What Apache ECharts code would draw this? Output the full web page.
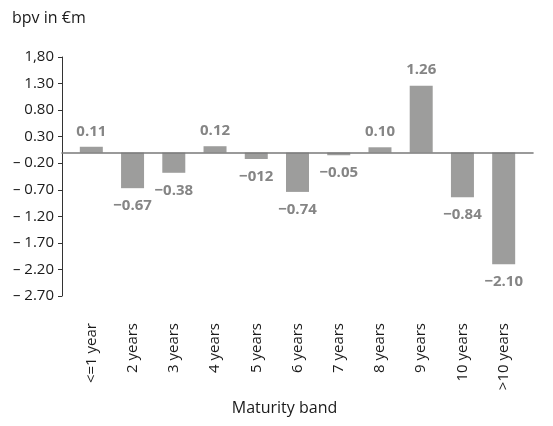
<!DOCTYPE html>
<html>
<head>
<meta charset="utf-8">
<script src="https://cdn.jsdelivr.net/npm/echarts@6/dist/echarts.min.js"></script>
<style>
html,body{margin:0;padding:0;background:#fff;}
#chart{width:553px;height:426px;}
</style>
</head>
<body>
<div id="chart"></div>
<script>
var categories = ["<=1 year","2 years","3 years","4 years","5 years","6 years","7 years","8 years","9 years","10 years",">10 years"];
var values = [0.11,-0.67,-0.38,0.12,-0.12,-0.74,-0.05,0.10,1.26,-0.84,-2.10];
var valueLabels = ["0.11","\u22120.67","\u22120.38","0.12","\u2212012","\u22120.74","\u22120.05","0.10","1.26","\u22120.84","\u22122.10"];
var tickValues = [1.8,1.3,0.8,0.3,-0.2,-0.7,-1.2,-1.7,-2.2,-2.7];
var tickLabels = ["1,80","1.30","0.80","0.30","\u2013 0.20","\u2013 0.70","\u2013 1.20","\u2013 1.70","\u2013 2.20","\u2013 2.70"];
var yTitle = "bpv in \u20acm";
var xTitle = "Maturity band";

var FONT = "Open Sans";
var yMin = -2.7, yMax = 1.8;

var barData = values.map(function (v, i) {
  return {
    value: v,
    label: {
      position: v >= 0 ? 'top' : 'bottom',
      distance: v >= 0 ? 8 : 10,
      formatter: function () { return valueLabels[i]; }
    }
  };
});

var chart = echarts.init(document.getElementById('chart'), null, {renderer: 'canvas'});
chart.setOption({
  animation: false,
  backgroundColor: '#ffffff',
  title: {
    text: yTitle,
    left: 7, top: 5,
    textStyle: {fontFamily: FONT, fontSize: 16, fontWeight: 'normal', color: '#1a1a1a'}
  },
  grid: [
    {left: 62, right: 20, top: 57, bottom: 130},
    {left: 70.7, right: 28.7, top: 57, bottom: 130}
  ],
  xAxis: [
    {
      gridIndex: 0, type: 'value', min: 0, max: 1, z: 5,
      axisLine: {show: true, onZero: true, lineStyle: {color: '#7a7a7a', width: 1.6}},
      axisTick: {show: false}, axisLabel: {show: false}, splitLine: {show: false}
    },
    {
      gridIndex: 1, type: 'category', data: categories,
      axisLine: {show: false}, axisTick: {show: false}, splitLine: {show: false},
      axisLabel: {rotate: 90, margin: 27, fontFamily: FONT, fontSize: 15, color: '#1a1a1a', interval: 0},
      name: xTitle, nameLocation: 'middle', nameGap: 104,
      nameTextStyle: {fontFamily: FONT, fontSize: 16, color: '#1a1a1a', padding: [0, 26, 0, 0]}
    }
  ],
  yAxis: [
    {
      gridIndex: 0, type: 'value', min: yMin, max: yMax,
      axisLine: {show: true, onZero: false, lineStyle: {color: '#333', width: 1}},
      axisTick: {show: true, length: 4, customValues: tickValues, lineStyle: {color: '#333'}},
      axisLabel: {
        customValues: tickValues, margin: 8, fontFamily: FONT, fontSize: 15, color: '#1a1a1a',
        formatter: function (v) {
          for (var i = 0; i < tickValues.length; i++) {
            if (Math.abs(tickValues[i] - v) < 1e-6) return tickLabels[i];
          }
          return '';
        }
      },
      splitLine: {show: false}
    },
    {
      gridIndex: 1, type: 'value', min: yMin, max: yMax, show: false,
      splitLine: {show: false}
    }
  ],
  series: [
    {
      type: 'bar', xAxisIndex: 1, yAxisIndex: 1,
      data: barData,
      barWidth: 23,
      itemStyle: {color: '#9d9d9c'},
      label: {show: true, fontFamily: FONT, fontSize: 15, fontWeight: 'bold', color: '#858585'}
    }
  ]
});
</script>
</body>
</html>
